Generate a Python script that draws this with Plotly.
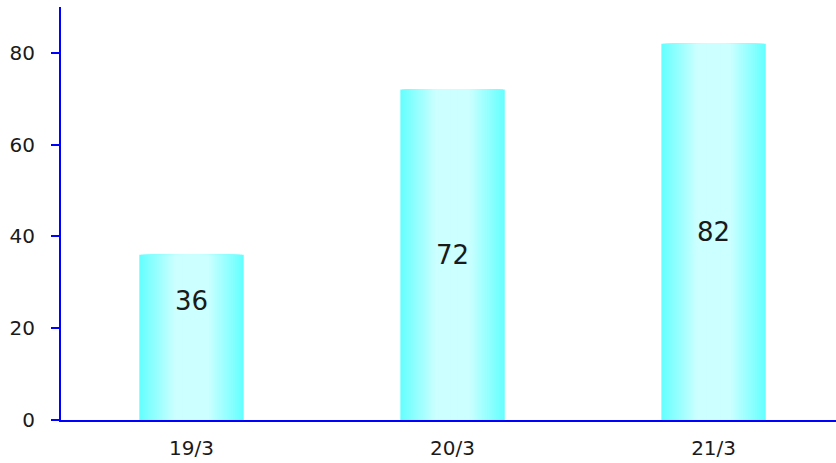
import plotly.graph_objects as go

# Data
categories = ["19/3", "20/3", "21/3"]
values = [36, 72, 82]
label_y = [26, 36, 41]  # vertical position of the value labels
y_ticks = [0, 20, 40, 60, 80]

# Horizontal cyan gradient built from overlaid bars of shrinking width
edge_rgb = (102, 255, 255)
center_rgb = (204, 255, 255)
bar_width = 0.4
layers = 30

fig = go.Figure()
for k in range(layers):
    frac = 1 - k / layers          # relative width of this layer
    t = min(1.0, (1 - frac) * 1.5)  # 0 at edge, 1 across the middle
    col = tuple(round(e + (c - e) * t) for e, c in zip(edge_rgb, center_rgb))
    fig.add_trace(go.Bar(
        x=categories, y=values,
        width=bar_width * frac,
        marker=dict(color="rgb(%d,%d,%d)" % col, line=dict(width=0)),
        hoverinfo="skip" if k else None,
        showlegend=False,
    ))

for cat, v, ly in zip(categories, values, label_y):
    fig.add_annotation(x=cat, y=ly, text=str(v), showarrow=False,
                       font=dict(family="DejaVu Sans", size=26, color="#1a1a1a"))

fig.update_layout(
    width=836, height=463,
    margin=dict(l=61, r=0, t=7, b=43),
    barmode="overlay",
    plot_bgcolor="white", paper_bgcolor="white",
    font=dict(family="DejaVu Sans", size=20, color="#1a1a1a"),
    xaxis=dict(
        range=[-0.5, 2.469],
        showgrid=False, zeroline=False,
        showline=True, linecolor="#0000ff", linewidth=2,
        ticks="", ticklabelstandoff=9,
    ),
    yaxis=dict(
        range=[0, 90],
        tickvals=y_ticks,
        showgrid=False, zeroline=False,
        showline=True, linecolor="#0000ff", linewidth=2,
        ticks="outside", ticklen=8, tickwidth=2, tickcolor="#0000ff",
        ticklabelstandoff=12,
    ),
)

fig.write_html("out.html")
